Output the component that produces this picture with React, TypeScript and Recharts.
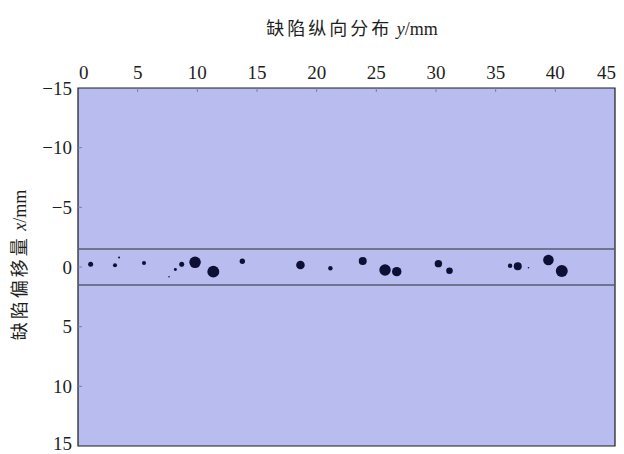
import {
  ScatterChart,
  Scatter,
  XAxis,
  YAxis,
  CartesianGrid,
  ReferenceArea,
  ReferenceLine,
} from "recharts";

// defect position along the weld (mm)
const defectY = [
  1.06, 3.1, 3.44, 5.53, 7.63, 8.16, 8.69, 9.81, 11.34, 13.77, 18.64, 21.15,
  23.86, 25.73, 26.71, 30.2, 31.13, 36.21, 36.85, 37.75, 39.42, 40.54,
];
// lateral offset of each defect (mm)
const defectX = [
  -0.23, -0.14, -0.8, -0.33, 0.81, 0.2, -0.22, -0.39, 0.39, -0.48, -0.17, 0.11,
  -0.5, 0.25, 0.39, -0.28, 0.31, -0.11, -0.06, 0.06, -0.59, 0.34,
];
// defect diameter (mm)
const defectD = [
  0.42, 0.34, 0.17, 0.34, 0.13, 0.25, 0.42, 0.96, 1.0, 0.45, 0.72, 0.37, 0.67,
  0.96, 0.79, 0.62, 0.55, 0.37, 0.67, 0.13, 0.89, 1.0,
];

const xTicks = [0, 5, 10, 15, 20, 25, 30, 35, 40, 45];
const yTicks = [-15, -10, -5, 0, 5, 10, 15];
const bandLimits = [-1.5, 1.5];

const W = 624;
const H = 454;
const X_AXIS_H = 30;
const Y_AXIS_W = 40;
const X_GAP = 9;
const Y_GAP = 6;
const TICK_LEN = 4;
const margin = { top: 88 - X_AXIS_H, right: 9, bottom: 8, left: 78 - Y_AXIS_W };
const pxPerMm = (H - 88 - margin.bottom) / 30;

const serif = "'Liberation Serif', 'Times New Roman', 'Noto Sans CJK SC', serif";
const textColor = "#1e1e1e";
const tickColor = "#7a7c98";

const data = defectY.map((y, i) => ({ y, x: defectX[i], d: defectD[i] }));

const Dot = (props: any) => {
  const { cx, cy, payload } = props;
  return <circle cx={cx} cy={cy} r={(payload.d / 2) * pxPerMm} fill="#0d0f35" />;
};

const fmt = (v: number) => (v < 0 ? `\u2212${Math.abs(v)}` : `${v}`);

// top axis: label plus an inward tick; end labels pulled inside the frame
const XTick = (props: any) => {
  const { x, y, payload, index } = props;
  const last = xTicks.length - 1;
  const anchor = index === 0 ? "start" : index === last ? "end" : "middle";
  const axisY = y + X_GAP;
  const showTick = index !== 0 && index !== last;
  return (
    <g>
      {showTick && (
        <line x1={x} x2={x} y1={axisY} y2={axisY + TICK_LEN} stroke={tickColor} />
      )}
      <text
        x={x + (index === 0 ? 1 : index === last ? 1 : 0)}
        y={y}
        textAnchor={anchor}
        fontFamily={serif}
        fontSize={19}
        fill={textColor}
      >
        {payload.value}
      </text>
    </g>
  );
};

const YTick = (props: any) => {
  const { x, y, payload, index } = props;
  // lowest label sits on the bottom edge; lift it a little so it stays visible
  const dy = index === yTicks.length - 1 ? -3 : 0;
  const axisX = x + Y_GAP;
  const showTick = index !== 0 && index !== yTicks.length - 1;
  return (
    <g>
      {showTick && (
        <line x1={axisX} x2={axisX + TICK_LEN} y1={y} y2={y} stroke={tickColor} />
      )}
      <text
        x={x}
        y={y + dy}
        dy="0.35em"
        textAnchor="end"
        fontFamily={serif}
        fontSize={19}
        fill={textColor}
      >
        {fmt(payload.value)}
      </text>
    </g>
  );
};

export default function App() {
  return (
    <div
      style={{
        position: "absolute",
        left: 0,
        top: 0,
        width: W,
        height: H,
        fontFamily: serif,
      }}
    >
      <div
        style={{
          position: "absolute",
          left: 0,
          width: W - 40,
          marginLeft: 60,
          top: 14,
          textAlign: "center",
          fontSize: 18,
          color: textColor,
          whiteSpace: "nowrap",
        }}
      >
        <span style={{ letterSpacing: 3 }}>缺陷纵向分布</span> <i>y</i>/mm
      </div>
      <div
        style={{
          position: "absolute",
          left: 18,
          top: 265,
          transform: "translate(-50%, -50%) rotate(-90deg)",
          fontSize: 18,
          color: textColor,
          whiteSpace: "nowrap",
        }}
      >
        <span style={{ letterSpacing: 3 }}>缺陷偏移量</span> <i>x</i>/mm
      </div>
      <ScatterChart width={W} height={H} margin={margin}>
        <CartesianGrid
          horizontal={false}
          vertical={false}
          fill="#b9bcee"
          fillOpacity={1}
        />
        {bandLimits.map((b) => (
          <ReferenceLine key={b} y={b} stroke="#585c72" strokeWidth={1.5} />
        ))}
        <ReferenceArea
          x1={0}
          x2={45}
          y1={-15}
          y2={15}
          fill="none"
          stroke="#1c1c1c"
          strokeWidth={1.2}
        />
        <XAxis
          type="number"
          dataKey="y"
          orientation="top"
          domain={[0, 45]}
          ticks={xTicks}
          interval={0}
          height={X_AXIS_H}
          axisLine={false}
          tickLine={false}
          tickSize={0}
          tickMargin={X_GAP}
          tick={<XTick />}
        />
        <YAxis
          type="number"
          dataKey="x"
          domain={[-15, 15]}
          reversed
          ticks={yTicks}
          interval={0}
          width={Y_AXIS_W}
          axisLine={false}
          tickLine={false}
          tickSize={0}
          tickMargin={Y_GAP}
          tick={<YTick />}
        />
        <Scatter data={data} shape={Dot} isAnimationActive={false} />
      </ScatterChart>
    </div>
  );
}
